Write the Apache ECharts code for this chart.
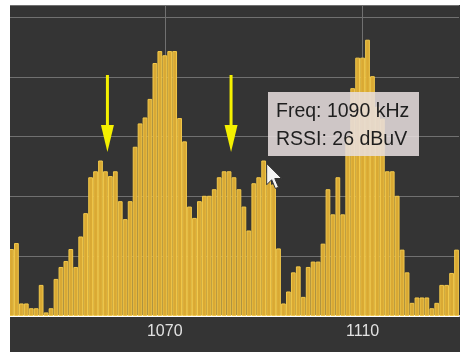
<!DOCTYPE html>
<html>
<head>
<meta charset="utf-8">
<script src="https://cdn.jsdelivr.net/npm/echarts@6/dist/echarts.min.js"></script>
<style>
  html, body { margin: 0; padding: 0; background: #ffffff; }
  #chart { width: 460px; height: 352px; }
</style>
</head>
<body>
<div id="chart"></div>
<script>
// Spectrum scan: received signal level per channel (1 kHz steps)
const freqs = [];
for (let f = 1039; f <= 1129; f++) freqs.push(String(f));

const rssi = [
  11.2, 12.2, 2.1, 2.1, 1.3, 1.3, 5.2, 0.6, 1.3, 6.2,
  8.2, 9.2, 11.2, 8.2, 13.3, 17.2, 23.2, 24.2, 26.0, 24.2,
  23.4, 24.2, 19.2, 16.2, 19.2, 28.3, 32.2, 33.2, 36.3, 42.3,
  44.3, 43.6, 44.3, 44.3, 33.1, 29.2, 18.3, 16.4, 19.2, 20.1,
  20.1, 21.2, 23.2, 24.2, 24.2, 23.2, 21.2, 18.3, 14.3, 22.2,
  23.2, 26.0, 24.0, 22.0, 11.3, 2.1, 4.1, 7.3, 8.3, 3.2,
  8.2, 9.1, 9.1, 12.1, 21.2, 17.0, 23.2, 17.0, 30.0, 38.1,
  43.2, 43.2, 46.2, 40.1, 35.0, 33.0, 24.2, 24.2, 20.1, 11.1,
  7.3, 2.2, 3.1, 3.1, 3.1, 1.3, 2.2, 5.2, 5.2, 7.2,
  11.1
];

const tickLabels = ['1070', '1110'];
const markedFreqs = ['1058', '1083'];
const hoverFreq = '1090';

const chart = echarts.init(document.getElementById('chart'), null, { renderer: 'canvas' });

const option = {
  animation: false,
  backgroundColor: '#343434',
  grid: { left: 9, top: 5, width: 450, height: 311, containLabel: false },
  xAxis: {
    type: 'category',
    data: freqs,
    boundaryGap: true,
    axisLine: { show: true, lineStyle: { color: '#ffffff', width: 2 } },
    axisTick: { show: false },
    axisLabel: {
      interval: (i, v) => tickLabels.includes(v),
      color: '#e2e2e2',
      fontSize: 16,
      fontFamily: 'Liberation Sans, Arial, sans-serif',
      margin: 8
    },
    splitLine: { show: false }
  },
  yAxis: {
    type: 'value',
    min: 0,
    max: 52,
    interval: 10,
    axisLine: { show: false },
    axisTick: { show: false },
    axisLabel: { show: false },
    splitLine: { show: true, lineStyle: { color: '#707070', width: 1 } }
  },
  series: [
    {
      // vertical grid lines at the labelled frequencies, kept behind the bars
      type: 'line',
      data: [],
      z: 1,
      markLine: {
        z: 1,
        silent: true,
        symbol: 'none',
        label: { show: false },
        lineStyle: { color: '#707070', width: 1, type: 'solid' },
        data: tickLabels.map(t => ({ xAxis: t }))
      }
    },
    {
      type: 'bar',
      data: rssi,
      barCategoryGap: '4%',
      itemStyle: { color: '#d9a934', borderColor: '#f3c94a', borderWidth: 1 },
      z: 3
    }
  ]
};
chart.setOption(option);

// Annotations: down arrows over two peaks, hover pointer and readout box
const g = [];
g.push({ type: 'rect', shape: { x: 0, y: 0, width: 10, height: 352 }, style: { fill: '#ffffff' }, z: 100 });
g.push({ type: 'rect', shape: { x: 0, y: 0, width: 460, height: 5 }, style: { fill: '#ffffff' }, z: 100 });

markedFreqs.forEach(f => {
  const x = chart.convertToPixel({ xAxisIndex: 0 }, f) + 2;
  g.push({ type: 'line', shape: { x1: x, y1: 75, x2: x, y2: 128 }, style: { stroke: '#f4f000', lineWidth: 3 }, z: 50 });
  g.push({ type: 'polygon', shape: { points: [[x - 6.5, 125], [x + 6.5, 125], [x, 152]] }, style: { fill: '#f4f000' }, z: 50 });
});

const hi = freqs.indexOf(hoverFreq);
const tip = chart.convertToPixel({ xAxisIndex: 0, yAxisIndex: 0 }, [hoverFreq, rssi[hi]]);
const cx = tip[0] + 3, cy = tip[1] + 3;
const s = 1.25;
const cursorPts = [[0, 0], [0, 17], [4, 13], [7, 20], [9.5, 19], [6.5, 12], [12, 12]]
  .map(p => [cx + p[0] * s, cy + p[1] * s]);
g.push({ type: 'polygon', shape: { points: cursorPts }, style: { fill: '#f4f4f4', stroke: '#333333', lineWidth: 1 }, z: 60 });

g.push({ type: 'rect', shape: { x: 268, y: 92, width: 151, height: 64 }, style: { fill: 'rgba(232,222,222,0.86)' }, z: 55 });
g.push({ type: 'text', x: 276, y: 98, style: {
  text: 'Freq: ' + hoverFreq + ' kHz\nRSSI: ' + Math.round(rssi[hi]) + ' dBuV',
  fill: '#1e1e1e', font: '19.5px "Liberation Sans", Arial, sans-serif', lineHeight: 28
}, z: 56 });

chart.setOption({ graphic: g });
</script>
</body>
</html>
